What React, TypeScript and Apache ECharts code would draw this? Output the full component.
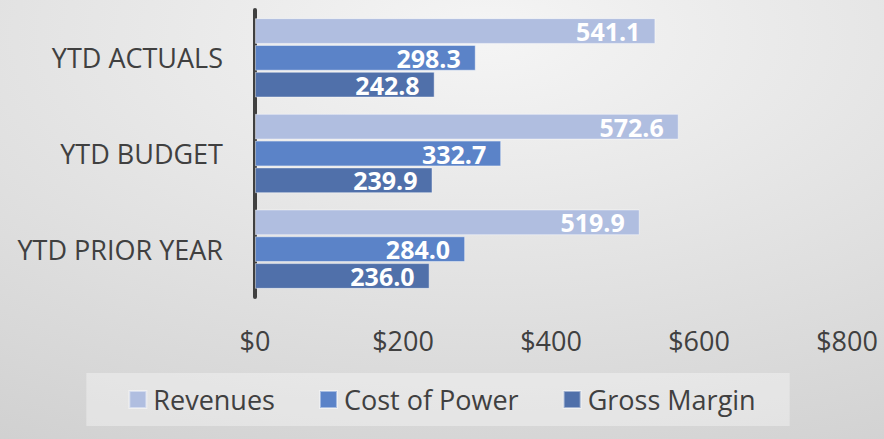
import React, { useEffect, useRef } from "react";
import * as echarts from "echarts";

const categories = ["YTD ACTUALS", "YTD BUDGET", "YTD PRIOR YEAR"];
const revenues = [541.1, 572.6, 519.9];
const costOfPower = [298.3, 332.7, 284.0];
const grossMargin = [242.8, 239.9, 236.0];
const seriesNames = ["Revenues", "Cost of Power", "Gross Margin"];
const xTicks = { min: 0, max: 800, interval: 200 };

const colors = ["#B0BEE0", "#5B83C8", "#5070AA"];
const FONT = "'Open Sans', 'Noto Sans', sans-serif";

export default function App() {
  const ref = useRef<HTMLDivElement>(null);
  useEffect(() => {
    if (!ref.current) return;
    const chart = echarts.init(ref.current, undefined, { renderer: "svg" });
    const values = [revenues, costOfPower, grossMargin];
    chart.setOption({
      animation: false,
      backgroundColor: new echarts.graphic.RadialGradient(0.55, 0.08, 1.45, [
        { offset: 0, color: "#f5f5f5" },
        { offset: 1, color: "#c4c4c4" },
      ]),
      textStyle: { fontFamily: FONT },
      grid: { left: 255, right: 37, top: 10, bottom: 142, containLabel: false },
      legend: {
        data: seriesNames,
        left: "center",
        bottom: 13,
        icon: "rect",
        itemWidth: 17,
        itemHeight: 17,
        itemGap: 44,
        padding: [13, 34, 13, 42],
        backgroundColor: "rgba(255,255,255,0.35)",
        textStyle: { fontFamily: FONT, fontSize: 27, color: "#404040", padding: [0, 0, 0, 2] },
      },
      xAxis: {
        type: "value",
        min: xTicks.min,
        max: xTicks.max,
        interval: xTicks.interval,
        axisLine: { show: false },
        axisTick: { show: false },
        splitLine: { show: false },
        axisLabel: {
          formatter: (v: number) => "$" + v,
          fontFamily: FONT,
          fontSize: 27,
          color: "#404040",
          margin: 30,
        },
      },
      yAxis: {
        type: "category",
        data: categories,
        inverse: true,
        axisLine: { show: true, lineStyle: { color: "#404040", width: 4 } },
        axisTick: { show: false },
        axisLabel: { fontFamily: FONT, fontSize: 27, color: "#404040", margin: 32 },
      },
      series: seriesNames.map((name, i) => ({
        name,
        type: "bar",
        data: values[i],
        barCategoryGap: "17%",
        barGap: "4%",
        itemStyle: { color: colors[i], borderColor: "rgba(255,255,255,0.45)", borderWidth: 1 },
        label: {
          show: true,
          position: "insideRight",
          distance: 15,
          formatter: (p: any) => p.value.toFixed(1),
          fontFamily: FONT,
          fontWeight: "bold",
          fontSize: 25,
          lineHeight: 24,
          color: "#ffffff",
        },
      })),
    });
    return () => chart.dispose();
  }, []);
  return (
    <div
      ref={ref}
      style={{ position: "absolute", left: 0, top: 0, width: 884, height: 439 }}
    />
  );
}
